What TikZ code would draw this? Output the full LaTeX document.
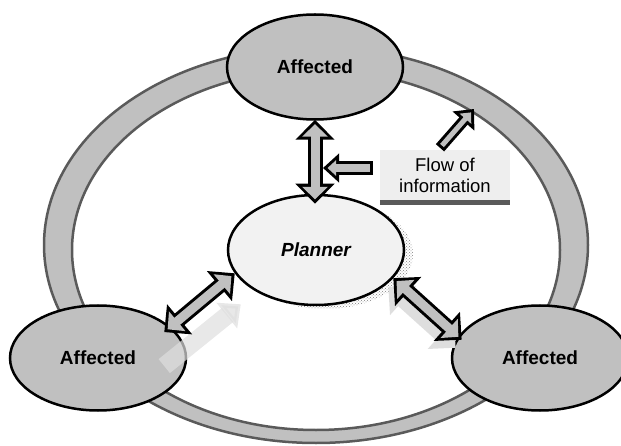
\documentclass[tikz,border=0pt]{standalone}
\usepackage{fontspec}
\setmainfont{Liberation Sans}
\usetikzlibrary{shapes.geometric,arrows.meta,calc,patterns}
\definecolor{ringgray}{RGB}{192,192,192}
\definecolor{edgegray}{RGB}{90,90,90}
\definecolor{plannerfill}{RGB}{242,242,242}
\definecolor{boxgray}{RGB}{238,238,238}
\definecolor{ghostgray}{RGB}{222,222,222}

\begin{document}
\begin{tikzpicture}[x=1pt,y=-1pt,
    party/.style={draw, ellipse, line width=2.5pt, fill=ringgray, minimum width=176pt, minimum height=105pt, inner sep=0pt, font=\fontsize{19}{22}\selectfont\bfseries},
    dblout/.style={line width=15pt, {Triangle[length=20pt,width=38pt]}-{Triangle[length=20pt,width=38pt]}},
    dblin/.style={line width=9pt, ringgray, shorten <=4.4pt, shorten >=4.4pt, {Triangle[length=12.5pt,width=25pt]}-{Triangle[length=12.5pt,width=25pt]}},
    sglout/.style={line width=14pt, -{Triangle[length=16pt,width=28pt]}},
    sglin/.style={line width=8pt, ringgray, shorten <=3pt, shorten >=4.5pt, -{Triangle[length=8.5pt,width=15pt]}}]
    \useasboundingbox (0,0) rectangle (621,446);

    % ring of affected parties
    \draw[line width=2.5pt, edgegray, fill=ringgray, even odd rule]
        (316,245) ellipse [x radius=272, y radius=198]
        (316,250) ellipse [x radius=244, y radius=180];

    % stippled shadow of the planner
    \fill[pattern=crosshatch dots, pattern color=gray] (325,254) ellipse [x radius=88, y radius=55];

    \node[party] (affT) at (315,67) {Affected};
    \node[party] (affL) at (98,358) {Affected};
    \node[party] (affR) at (540,358) {Affected};
    \node[party, fill=plannerfill, minimum height=110pt, font=\fontsize{19}{22}\selectfont\bfseries\itshape] (planner) at (316,250) {Planner};

    % faded copies behind the lower arrows
    \draw[line width=18pt, ghostgray, opacity=.7, -{Triangle[length=18pt,width=32pt]}] ($(affL.21)+(-9,37)$) -- ($(planner.196)+(6,31)$);
    \draw[dblout, ghostgray] ($(planner.340)+(-5,9)$) -- ($(affR.167)+(-1,9)$);

    % two-way flows
    \draw[dblout] ($(affT.south)+(0,-1)$) -- ($(affT.south |- planner.north)+(0,10)$);
    \draw[dblin] ($(affT.south)+(0,-1)$) -- ($(affT.south |- planner.north)+(0,10)$);
    \draw[dblout] (planner.196) -- ($(affL.21)+(-9,3)$);
    \draw[dblin] (planner.196) -- ($(affL.21)+(-9,3)$);
    \draw[dblout] (planner.340) -- ($(affR.167)+(5,1)$);
    \draw[dblin] (planner.340) -- ($(affR.167)+(5,1)$);

    % legend
    \node[fill=boxgray, minimum width=130pt, minimum height=50pt, inner sep=0pt, align=center, font=\fontsize{18.5}{21}\selectfont] (flow) at (445,175) {Flow of\\information};
    \draw[line width=5pt, edgegray] ([yshift=-2.5pt]flow.south west) -- ([yshift=-2.5pt]flow.south east);

    \coordinate (hit) at ($(affT.south |- flow.west)+(8,-7)$);
    \coordinate (ringpt) at (474,109);
    \draw[sglout] ($(flow.west)+(-7,-7)$) -- (hit);
    \draw[sglin] ($(flow.west)+(-7,-7)$) -- (hit);
    \draw[sglout, line width=11pt] ($(flow.north)+(-5,-2)$) -- (ringpt);
    \draw[sglin, line width=5pt] ($(flow.north)+(-5,-2)$) -- (ringpt);
\end{tikzpicture}
\end{document}
